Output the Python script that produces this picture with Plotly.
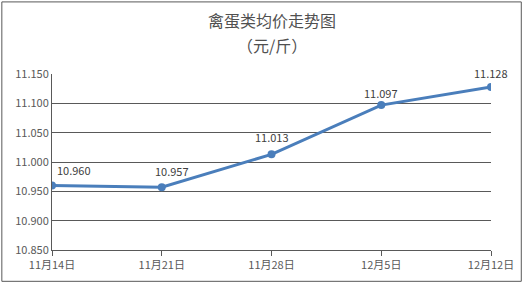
import plotly.graph_objects as go

categories = ["11月14日", "11月21日", "11月28日", "12月5日", "12月12日"]
values = [10.960, 10.957, 11.013, 11.097, 11.128]
label_texts = ["10.960", "10.957", "11.013", "11.097", "11.128"]
label_dx = [22, 10, 0, 0, 0]
label_dy = [15, 16, 17, 12, 14]
y_ticks = [10.850, 10.900, 10.950, 11.000, 11.050, 11.100, 11.150]

x_idx = list(range(len(categories)))
FONT = "Noto Sans CJK SC, Microsoft YaHei, sans-serif"
GRAY = "#595959"

fig = go.Figure()
fig.add_trace(go.Scatter(
    x=x_idx, y=values, mode="lines+markers",
    line=dict(color="#4A7EBB", width=3),
    marker=dict(color="#4A7EBB", size=8),
    hoverinfo="skip", showlegend=False,
))

annotations = []
for xi, v, t, dx, dy in zip(x_idx, values, label_texts, label_dx, label_dy):
    annotations.append(dict(x=xi, y=v, xref="x", yref="y", text=t, showarrow=False,
                            xshift=dx, yshift=dy,
                            font=dict(family=FONT, size=11, color="#404040")))
annotations.append(dict(x=0.5, y=1, xref="paper", yref="paper", text="禽蛋类均价走势图",
                        showarrow=False, yshift=54, yanchor="middle",
                        font=dict(family=FONT, size=16, color="#505050")))
annotations.append(dict(x=0.5, y=1, xref="paper", yref="paper", text="（元/斤）",
                        showarrow=False, yshift=29, yanchor="middle",
                        font=dict(family=FONT, size=16, color="#505050")))

pw, ph = 442, 177
fig.update_layout(
    width=526, height=284,
    margin=dict(l=52, r=32, t=74, b=33),
    paper_bgcolor="white", plot_bgcolor="white",
    annotations=annotations,
    shapes=[dict(type="rect", xref="paper", yref="paper",
                 x0=-50.5 / pw, x1=(524.5 - 52) / pw,
                 y0=-31.5 / ph, y1=(177 + 72.5) / ph,
                 line=dict(color="#595959", width=1), fillcolor="rgba(0,0,0,0)", layer="below")],
    xaxis=dict(
        range=[0, 4], tickmode="array", tickvals=x_idx, ticktext=categories,
        showgrid=False, showline=True, linecolor=GRAY, linewidth=1,
        ticks="outside", ticklen=5, tickcolor=GRAY,
        tickfont=dict(family=FONT, size=11, color=GRAY), zeroline=False,
    ),
    yaxis=dict(
        range=[10.850, 11.150], tickmode="array", tickvals=y_ticks,
        ticktext=[f"{v:.3f}" for v in y_ticks],
        showgrid=True, gridcolor=GRAY, gridwidth=1,
        showline=True, linecolor=GRAY, linewidth=1,
        ticks="", tickfont=dict(family=FONT, size=11, color=GRAY), zeroline=False,
    ),
)
fig.write_html("out.html")
